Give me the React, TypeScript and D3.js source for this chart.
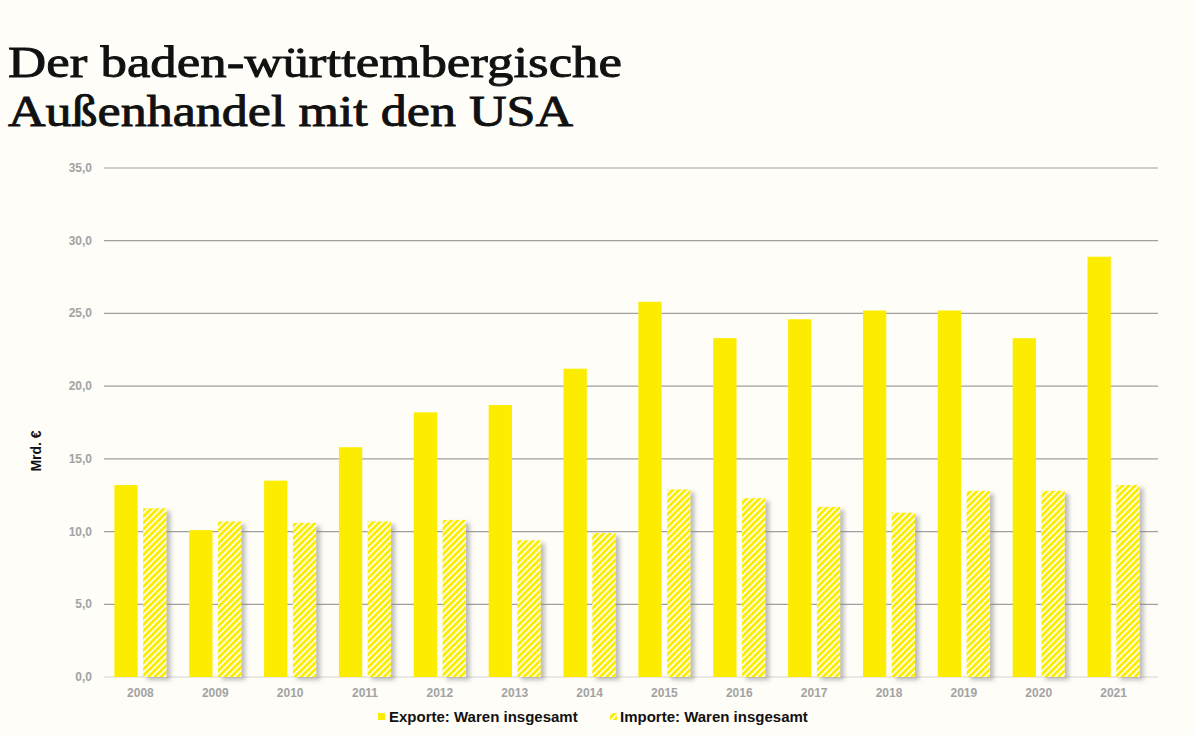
import React from "react";
import * as d3 from "d3";

const years = ["2008","2009","2010","2011","2012","2013","2014","2015","2016","2017","2018","2019","2020","2021"];
const exporte = [13.2, 10.1, 13.5, 15.8, 18.2, 18.7, 21.2, 25.8, 23.3, 24.6, 25.2, 25.2, 23.3, 28.9];
const importe = [11.6, 10.7, 10.6, 10.7, 10.8, 9.4, 9.9, 12.9, 12.3, 11.7, 11.3, 12.8, 12.8, 13.2];
const yTicks = [0, 5, 10, 15, 20, 25, 30, 35];
const seriesNames = ["Exporte: Waren insgesamt", "Importe: Waren insgesamt"];
const titleLines = ["Der baden-württembergische", "Außenhandel mit den USA"];

const W = 1195, H = 735;
const BG = "#fefdf8";
const YEL = "#fced00";

export default function App() {
  const x = d3.scaleBand<string>().domain(years).range([103, 1151]).paddingInner(0).paddingOuter(0);
  const y = d3.scaleLinear().domain([0, 35]).range([677, 168]);
  const barW = 23.3;
  const gap = 5.5;
  const fmt = (v: number) => v.toFixed(1).replace(".", ",");

  return (
    <svg width={W} height={H} style={{ position: "fixed", left: 0, top: 0, background: BG }}>
      <defs>
        <pattern id="hatch" patternUnits="userSpaceOnUse" width="4.5" height="4.5" patternTransform="rotate(45)">
          <rect width="4.5" height="4.5" fill={YEL} />
          <rect x="0" y="0" width="1.6" height="4.5" fill="#ffffff" />
        </pattern>
        <filter id="shadow" x="-20%" y="-10%" width="160%" height="130%">
          <feDropShadow dx="4" dy="3" stdDeviation="2.2" floodColor="#888" floodOpacity="0.55" />
        </filter>
      </defs>
      <rect width={W} height={H} fill={BG} />
      <text x={8} y={77} fontFamily="'Liberation Serif', serif" fontSize={44} fill="#111" stroke="#111" strokeWidth={0.9} textLength={614} lengthAdjust="spacingAndGlyphs">{titleLines[0]}</text>
      <text x={8} y={126} fontFamily="'Liberation Serif', serif" fontSize={44} fill="#111" stroke="#111" strokeWidth={0.9} textLength={565} lengthAdjust="spacingAndGlyphs">{titleLines[1]}</text>

      {yTicks.map((t) => (
        <g key={t}>
          {t > 0 && <line x1={104} x2={1158} y1={y(t)} y2={y(t)} stroke="#a0a0a0" strokeWidth={1.2} />}
          <text x={92} y={y(t) + 4} textAnchor="end" fontFamily="'Liberation Sans', Arial, sans-serif" fontSize={12} fontWeight="bold" fill="#a3a3a3">{fmt(t)}</text>
        </g>
      ))}
      <line x1={104} x2={1158} y1={y(0)} y2={y(0)} stroke="#d4d4d4" strokeWidth={1} />

      <text transform={`translate(41,${451}) rotate(-90)`} textAnchor="middle" fontFamily="'Liberation Sans', Arial, sans-serif" fontSize={14} fontWeight="bold" fill="#111">Mrd. €</text>

      {years.map((yr, i) => {
        const cx = (x(yr) as number) + x.bandwidth() / 2;
        const x0 = cx - gap / 2 - barW;
        const x1 = cx + gap / 2;
        return (
          <g key={yr}>
            <rect x={x1} y={y(importe[i])} width={barW} height={y(0) - y(importe[i])} fill="url(#hatch)" filter="url(#shadow)" />
            <rect x={x0} y={y(exporte[i])} width={barW} height={y(0) - y(exporte[i])} fill={YEL} />
            <text x={cx} y={697} textAnchor="middle" fontFamily="'Liberation Sans', Arial, sans-serif" fontSize={12} fontWeight="bold" fill="#a3a3a3">{yr}</text>
          </g>
        );
      })}

      <rect x={378} y={713} width={7} height={7} fill={YEL} />
      <text x={389} y={722} fontFamily="'Liberation Sans', Arial, sans-serif" fontSize={15} fontWeight="bold" fill="#111">{seriesNames[0]}</text>
      <rect x={610} y={713} width={7} height={7} fill="url(#hatch)" />
      <text x={620} y={722} fontFamily="'Liberation Sans', Arial, sans-serif" fontSize={15} fontWeight="bold" fill="#111">{seriesNames[1]}</text>
    </svg>
  );
}
